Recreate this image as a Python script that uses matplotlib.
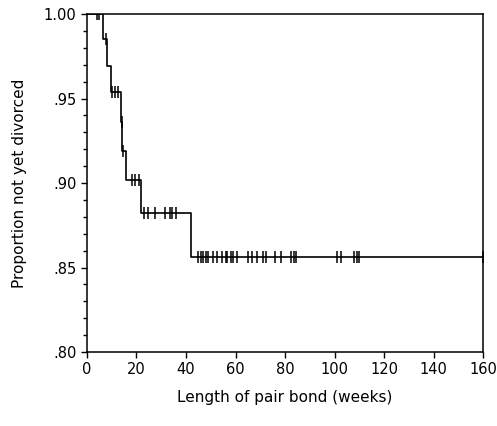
import matplotlib
matplotlib.use("Agg")
import matplotlib.pyplot as plt
from matplotlib.ticker import MultipleLocator, FuncFormatter

plt.rcParams['font.family'] = ['DejaVu Sans']

# survival step function (event times in weeks and level after each drop)
drop_weeks = [6.5, 8, 9.7, 13.7, 14.2, 15.7, 22, 42]
levels = [1.0, 0.985, 0.969, 0.954, 0.936, 0.919, 0.902, 0.882, 0.856]
end_week = 160

# censored observations (weeks)
censor_weeks = [4, 5, 7.5, 10, 11.3, 12.5, 14.0, 14.6, 18, 19.5, 21,
                23, 24.5, 27.5, 31.5, 33.5, 34.5, 36,
                45, 46, 47, 48, 49, 51, 52.5, 54.5, 56, 56.5, 58, 59, 60.5,
                65, 66.5, 68.5, 71, 72.5, 76, 78.5, 82.5, 83.5, 84.5,
                101, 102.5, 108, 109, 110, 160]


def level_at(w):
    lv = levels[0]
    for t, l in zip(drop_weeks, levels[1:]):
        if w >= t:
            lv = l
    return lv


fig = plt.figure(figsize=(4.97, 4.26), dpi=100)
ax = fig.add_axes([0.175, 0.1737, 0.797, 0.7934])

xs = [0] + drop_weeks + [end_week]
ys = levels + [levels[-1]]
ax.step(xs, ys, where='post', color='black', lw=1.2)

cy = [level_at(w) for w in censor_weeks]
ax.plot(censor_weeks, cy, linestyle='none', marker='|', color='black',
        markersize=8, markeredgewidth=1.1)

ax.set_xlim(0, 160)
ax.set_ylim(0.80, 1.00)
ax.xaxis.set_major_locator(MultipleLocator(20))
ax.yaxis.set_major_locator(MultipleLocator(0.05))
ax.yaxis.set_minor_locator(MultipleLocator(0.01))


def fmt(v, pos):
    s = '%.2f' % v
    return s[1:] if s.startswith('0') else s


ax.yaxis.set_major_formatter(FuncFormatter(fmt))
ax.tick_params(axis='both', which='major', direction='out', length=4,
               width=1, labelsize=10.5, colors='black')
ax.tick_params(axis='y', which='minor', direction='out', length=3, width=1)
for s in ax.spines.values():
    s.set_linewidth(1.1)

ax.set_xlabel('Length of pair bond (weeks)', fontsize=11, labelpad=9)
ax.set_ylabel('Proportion not yet divorced', fontsize=11, labelpad=12)

fig.savefig('out.png', dpi=100)
